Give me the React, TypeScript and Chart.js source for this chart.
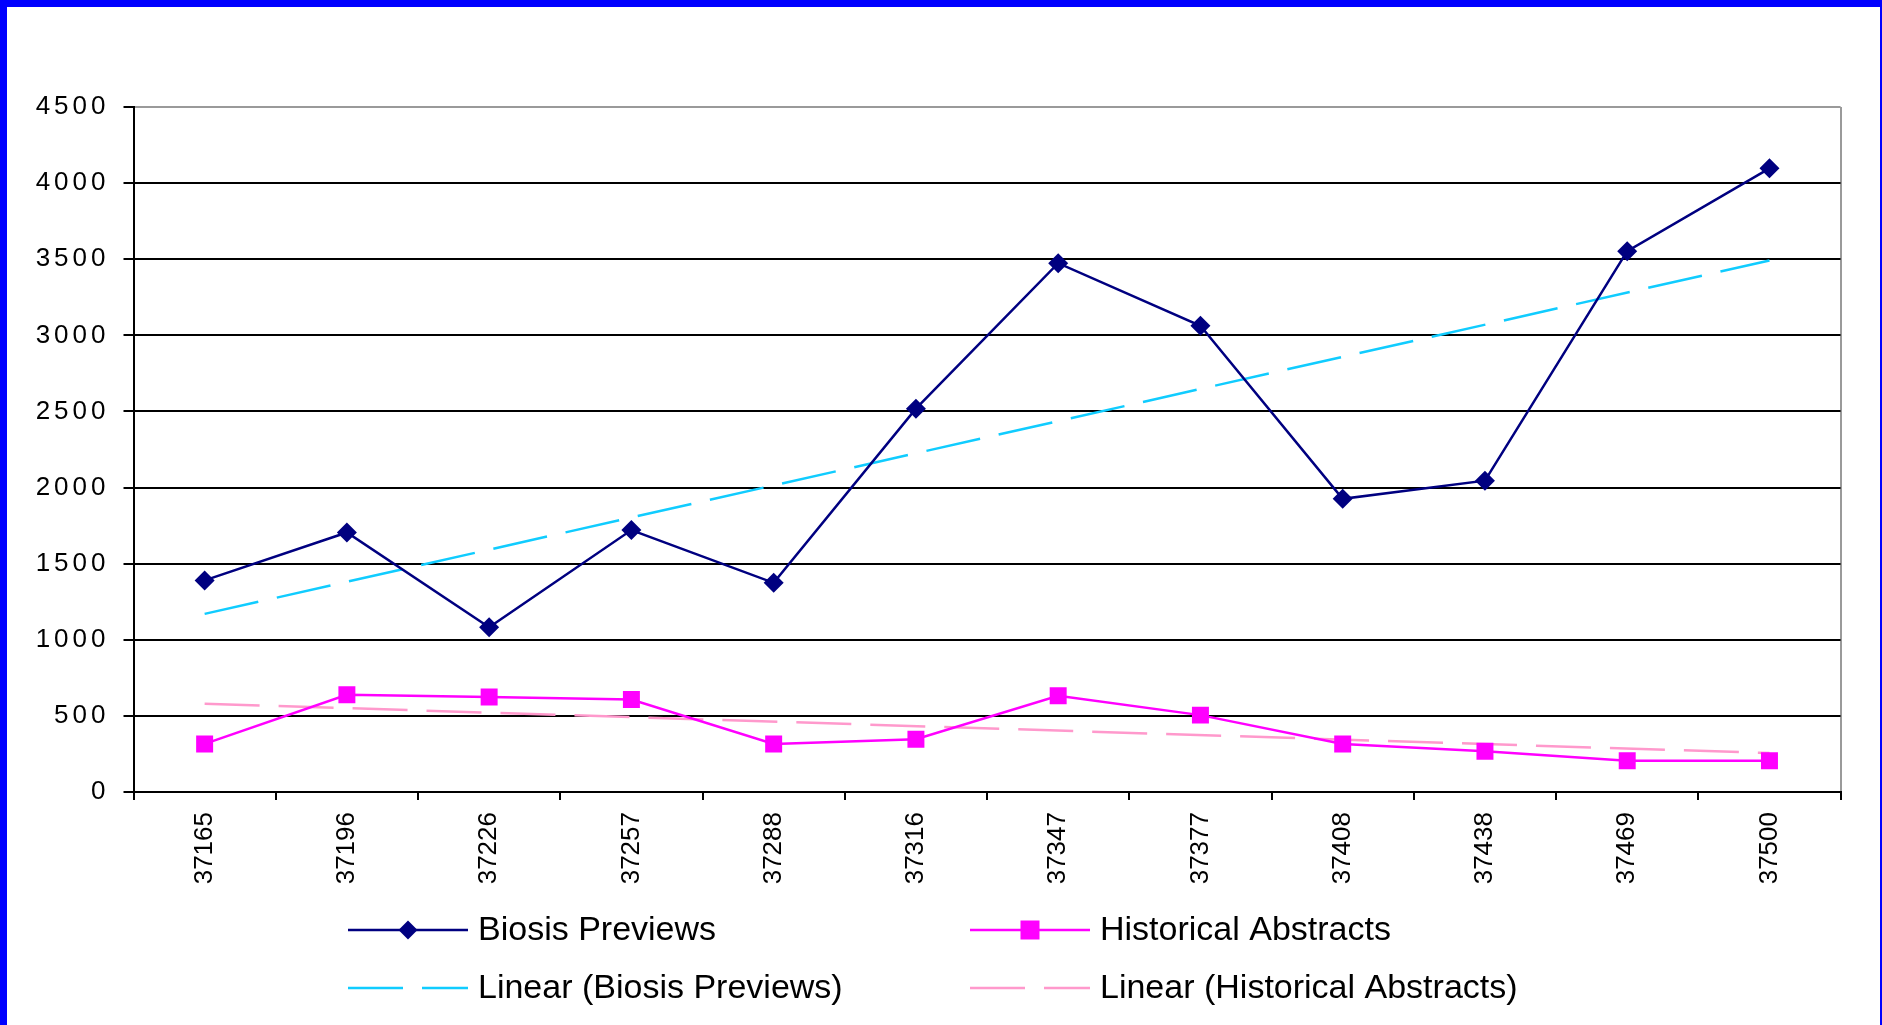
import React, { useEffect, useRef } from "react";
import { Chart, registerables } from "chart.js";

Chart.register(...registerables);

const categories = ["37165", "37196", "37226", "37257", "37288", "37316", "37347", "37377", "37408", "37438", "37469", "37500"];
const biosisPreviews = [1390, 1705, 1082, 1721, 1374, 2518, 3474, 3063, 1926, 2045, 3553, 4097];
const historicalAbstracts = [316, 639, 624, 608, 316, 347, 632, 505, 316, 268, 205, 205];
// trend lines: read at first and last category
const linearBiosis = [1170, null, null, null, null, null, null, null, null, null, null, 3492];
const linearHistorical = [580, null, null, null, null, null, null, null, null, null, null, 256];
const yMin = 0;
const yMax = 4500;
const yStep = 500;

const NAVY = "#000080";
const MAGENTA = "#FF00FF";
const CYAN = "#10CCFF";
const PINK = "#FF99CC";
const GRAY = "#9a9a9a";

const legendPlugin = {
  id: "excelLegend",
  afterDraw(chart: any) {
    const o = chart.options.plugins.excelLegend;
    const ctx = chart.ctx;
    chart.data.datasets.forEach((ds: any, i: number) => {
      const col = i % 2;
      const row = Math.floor(i / 2);
      const x0 = o.cols[col];
      const y = o.rows[row];
      ctx.save();
      ctx.strokeStyle = ds.borderColor;
      ctx.lineWidth = 2.5;
      ctx.setLineDash(ds.borderDash || []);
      ctx.beginPath();
      ctx.moveTo(x0, y);
      ctx.lineTo(x0 + o.lineLen, y);
      ctx.stroke();
      ctx.setLineDash([]);
      const cx = x0 + o.lineLen / 2;
      if (ds.pointRadius > 0) {
        ctx.fillStyle = ds.pointBackgroundColor;
        ctx.beginPath();
        if (ds.pointStyle === "rectRot") {
          const r = 9.5;
          ctx.moveTo(cx, y - r);
          ctx.lineTo(cx + r, y);
          ctx.lineTo(cx, y + r);
          ctx.lineTo(cx - r, y);
          ctx.closePath();
        } else {
          ctx.rect(cx - 9.5, y - 9.5, 19, 19);
        }
        ctx.fill();
      }
      ctx.fillStyle = "#000";
      ctx.font = o.font;
      ctx.textAlign = "left";
      ctx.textBaseline = "middle";
      ctx.fillText(ds.label, x0 + o.lineLen + o.textGap, y + 1);
      ctx.restore();
    });
  },
};

const spacedYLabels = {
  id: "spacedYLabels",
  afterLayout(chart: any) {
    const s: any = chart.scales.y;
    if (!s || s.__patched) return;
    const orig = s.drawLabels.bind(s);
    s.drawLabels = (area: any) => {
      const c: any = chart.ctx;
      const prev = c.letterSpacing;
      c.letterSpacing = "4px";
      orig(area);
      c.letterSpacing = prev || "0px";
    };
    s.__patched = true;
  },
};

export default function App() {
  const ref = useRef<HTMLCanvasElement | null>(null);
  useEffect(() => {
    if (!ref.current) return;
    const chart = new Chart(ref.current, {
      type: "line",
      data: {
        labels: categories,
        datasets: [
          {
            label: "Biosis Previews",
            data: biosisPreviews,
            borderColor: NAVY,
            backgroundColor: NAVY,
            pointBackgroundColor: NAVY,
            pointBorderColor: NAVY,
            pointStyle: "rectRot",
            pointRadius: 10,
            pointBorderWidth: 0,
            borderWidth: 2.5,
            tension: 0,
          },
          {
            label: "Historical Abstracts",
            data: historicalAbstracts,
            borderColor: MAGENTA,
            backgroundColor: MAGENTA,
            pointBackgroundColor: MAGENTA,
            pointBorderColor: MAGENTA,
            pointStyle: "rect",
            pointRadius: 12,
            pointBorderWidth: 0,
            borderWidth: 2.5,
            tension: 0,
          },
          {
            label: "Linear (Biosis Previews)",
            data: linearBiosis,
            borderColor: CYAN,
            borderWidth: 2.5,
            borderDash: [55, 19],
            pointRadius: 0,
            spanGaps: true,
            tension: 0,
          },
          {
            label: "Linear (Historical Abstracts)",
            data: linearHistorical,
            borderColor: PINK,
            borderWidth: 2.5,
            borderDash: [55, 19],
            pointRadius: 0,
            spanGaps: true,
            tension: 0,
          },
        ] as any,
      },
      plugins: [legendPlugin as any, spacedYLabels as any],
      options: {
        animation: false,
        responsive: true,
        maintainAspectRatio: false,
        events: [],
        layout: { padding: { top: 100, right: 39.4, left: 0, bottom: 0 } },
        plugins: {
          legend: { display: false },
          tooltip: { enabled: false },
          excelLegend: {
            cols: [341, 963],
            rows: [923, 981],
            lineLen: 120,
            textGap: 10,
            font: "34px 'Liberation Sans', Arial, sans-serif",
          },
        } as any,
        scales: {
          x: {
            type: "category",
            offset: true,
            afterFit: (s: any) => {
              s.height = 233;
            },
            grid: {
              offset: true,
              drawOnChartArea: true,
              color: (c: any) => (c.type === "scale" ? GRAY : "rgba(0,0,0,0)"),
              lineWidth: 2,
              tickColor: "#000",
              tickWidth: 2,
              tickLength: 8,
            },
            border: { display: true, color: "#000", width: 2 },
            ticks: {
              autoSkip: false,
              minRotation: 90,
              maxRotation: 90,
              padding: 12,
              color: "#000",
              font: { family: "'Liberation Sans', Arial, sans-serif", size: 26 },
            },
          },
          y: {
            type: "linear",
            min: yMin,
            max: yMax,
            afterFit: (s: any) => {
              s.width = 126.5;
            },
            grid: {
              color: (c: any) => (c.tick && c.tick.value === yMax ? GRAY : "#000"),
              lineWidth: 2,
              tickColor: "#000",
              tickWidth: 2,
              tickLength: 10,
            },
            border: { display: true, color: "#000", width: 2 },
            ticks: {
              stepSize: yStep,
              padding: 14,
              color: "#000",
              callback: (v: any) => String(v),
              font: { family: "'Liberation Sans', Arial, sans-serif", size: 26 },
            },
          },
        },
      } as any,
    });
    return () => chart.destroy();
  }, []);

  return (
    <div
      style={{
        position: "fixed",
        left: 0,
        top: 0,
        width: 1882,
        height: 1025,
        boxSizing: "border-box",
        background: "#ffffff",
        borderTop: "7px solid #0000FF",
        borderLeft: "7px solid #0000FF",
        borderRight: "2px solid #0000FF",
      }}
    >
      <div style={{ position: "relative", width: "100%", height: "100%" }}>
        <canvas ref={ref} />
      </div>
    </div>
  );
}
